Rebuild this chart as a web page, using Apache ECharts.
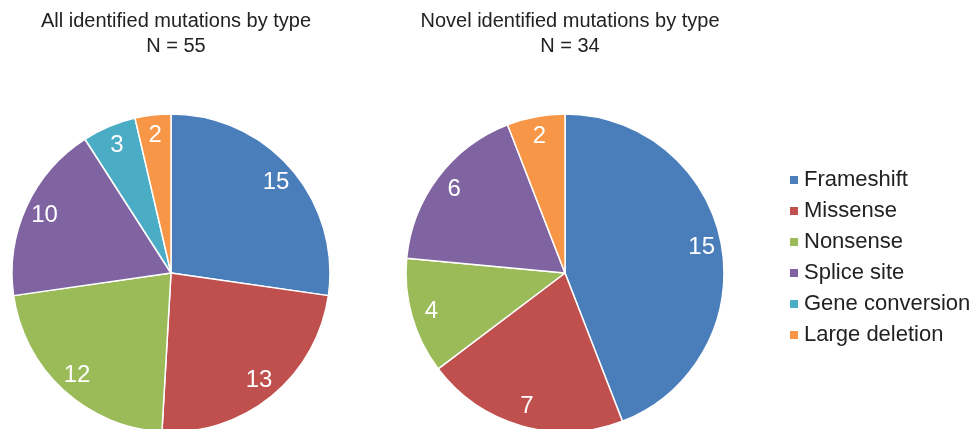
<!DOCTYPE html>
<html>
<head>
<meta charset="utf-8">
<script src="https://cdn.jsdelivr.net/npm/echarts@6/dist/echarts.min.js"></script>
<style>html,body{margin:0;padding:0;background:#fff}#c{width:971px;height:429px}</style>
</head>
<body>
<div id="c"></div>
<script>
const categories = ['Frameshift', 'Missense', 'Nonsense', 'Splice site', 'Gene conversion', 'Large deletion'];
const colors = ['#4A7EBB', '#C0504D', '#9BBB59', '#8064A2', '#4BACC6', '#F79646'];
const allValues = [15, 13, 12, 10, 3, 2];
const novelValues = [15, 7, 4, 6, 0, 2];
const titles = ['All identified mutations by type\nN = 55', 'Novel identified mutations by type\nN = 34'];

const FONT = 'Liberation Sans, Arial, sans-serif';
function build(values) {
  return categories.map((n, i) => ({ name: n, value: values[i], itemStyle: { color: colors[i] } }))
    .filter(d => d.value > 0);
}
function pieSeries(values, cx) {
  return [{
    type: 'pie', center: [cx, 273], radius: [0, 159], startAngle: 90, clockwise: true,
    data: build(values), label: { show: false }, labelLine: { show: false },
    itemStyle: { borderColor: '#fff', borderWidth: 1.5 }, silent: true, animation: false
  }, {
    type: 'pie', center: [cx, 273], radius: [113, 159], startAngle: 90, clockwise: true,
    data: build(values).map(d => ({ name: d.name, value: d.value, itemStyle: { color: 'rgba(0,0,0,0)' } })),
    label: { show: true, position: 'inside', color: '#fff', fontSize: 24, fontFamily: FONT, formatter: '{c}' },
    labelLine: { show: false }, itemStyle: { borderWidth: 0 }, silent: true, animation: false,
    legendHoverLink: false
  }];
}
const chart = echarts.init(document.getElementById('c'), null, { renderer: 'canvas' });
const titleStyle = { fontSize: 20, fontWeight: 'normal', color: '#222', fontFamily: FONT, lineHeight: 25 };
chart.setOption({
  backgroundColor: '#fff',
  animation: false,
  title: [
    { text: titles[0], left: 171, top: 4, textAlign: 'center', textStyle: titleStyle },
    { text: titles[1], left: 565, top: 4, textAlign: 'center', textStyle: titleStyle }
  ],
  legend: {
    orient: 'vertical', left: 783, top: 164, itemWidth: 10, itemHeight: 10, itemGap: 9,
    icon: 'rect', data: categories,
    textStyle: { fontSize: 22, color: '#222', fontFamily: FONT, lineHeight: 22 }
  },
  series: [...pieSeries(allValues, 171), ...pieSeries(novelValues, 565)]
});
</script>
</body>
</html>
